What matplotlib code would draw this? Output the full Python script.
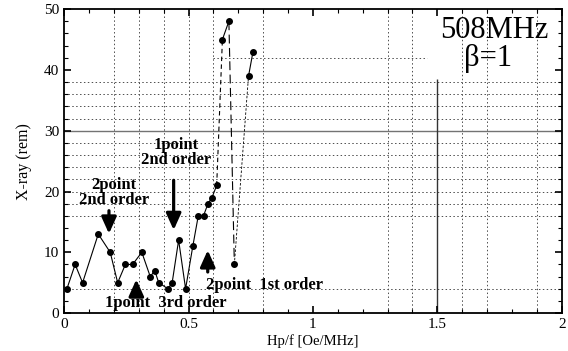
import matplotlib
matplotlib.use('Agg')
import matplotlib.pyplot as plt

plt.rcParams['font.family'] = ['Liberation Serif', 'DejaVu Serif']

# measured points (Hp/f, X-ray)
x_solid = [0.011, 0.044, 0.074, 0.137, 0.185, 0.215, 0.246, 0.275, 0.312, 0.346,
           0.364, 0.380, 0.417, 0.434, 0.460, 0.488, 0.517, 0.539, 0.560, 0.578,
           0.594, 0.613]
y_solid = [4, 8, 5, 13, 10, 5, 8, 8, 10, 6,
           7, 5, 4, 5, 12, 4, 11, 16, 16, 18,
           19, 21]
x_top = [0.636, 0.662]
y_top = [45, 48]
x_low = 0.684
y_low = 8
x_last = [0.741, 0.759]
y_last = [39, 43]

# grid of the scanned paper
vgrid = [0.2, 0.3, 0.4, 0.5, 0.6, 0.8, 1.3, 1.4, 1.6, 1.7, 1.9]
hgrid = [4, 16, 18, 20, 22, 24, 26, 28, 32, 34, 36, 38]

fig = plt.figure(figsize=(5.68, 3.51), dpi=100)
ax = fig.add_axes([0.113, 0.108, 0.876, 0.866])

for v in vgrid:
    ax.axvline(v, color='0.3', lw=0.7, ls=(0, (1.5, 2.5)), zorder=1)
for h in hgrid:
    ax.axhline(h, color='0.3', lw=0.7, ls=(0, (1.5, 2.5)), zorder=1)
ax.hlines(42, 0.6, 1.46, color='0.3', lw=0.7, ls=(0, (1.5, 2.5)), zorder=1)
ax.axhline(30, color='0.45', lw=1.0, zorder=1)
ax.vlines(1.5, 0, 38.5, color='0.2', lw=1.0, zorder=1)

# data
ax.plot(x_solid, y_solid, color='k', lw=0.8, marker='o', ms=4, zorder=3)
ax.plot([x_solid[-1], x_top[0]], [y_solid[-1], y_top[0]], color='k', lw=0.8,
        ls=(0, (4, 3)), zorder=3)
ax.plot(x_top, y_top, color='k', lw=0.8, marker='o', ms=4, zorder=3)
ax.plot([x_top[-1], x_low], [y_top[-1], y_low], color='k', lw=0.8,
        ls=(0, (8, 4)), zorder=3)
ax.plot([x_low, x_last[0]], [y_low, y_last[0]], color='k', lw=0.6,
        ls=(0, (3, 2)), zorder=3)
ax.plot(x_low, y_low, color='k', marker='o', ms=4, zorder=3)
ax.plot(x_last, y_last, color='k', lw=0.8, marker='o', ms=4, zorder=3)

# annotations
arrow = dict(arrowstyle='-|>,head_width=0.45,head_length=1.0', color='k', lw=2.3)
ax.annotate('', xy=(0.18, 12.6), xytext=(0.18, 17.3), arrowprops=arrow)
ax.annotate('', xy=(0.44, 13.2), xytext=(0.44, 22.3), arrowprops=arrow)
ax.annotate('', xy=(0.29, 6.0), xytext=(0.29, 2.6), arrowprops=arrow)
ax.annotate('', xy=(0.577, 10.8), xytext=(0.577, 6.3), arrowprops=arrow)

tkw = dict(fontsize=12, fontweight='bold', ha='center', va='center',
           linespacing=0.9)
ax.text(0.20, 19.9, '2point\n2nd order', **tkw)
ax.text(0.45, 26.4, '1point\n2nd order', **tkw)
ax.text(0.41, 1.6, '1point  3rd order', **tkw)
ax.text(0.805, 4.7, '2point  1st order', **tkw)

ax.text(1.73, 46.5, '508MHz', fontsize=22, ha='center', va='center')
ax.text(1.705, 41.8, 'β=1', fontsize=22, ha='center', va='center')

ax.set_xlim(0, 2)
ax.set_ylim(0, 50)
ax.set_xticks([0, 0.5, 1, 1.5, 2])
ax.set_xticklabels(['0', '0.5', '1', '1.5', '2'])
ax.set_xticks([i / 10 for i in range(21)], minor=True)
ax.set_yticks([0, 10, 20, 30, 40, 50])
ax.set_yticks(list(range(0, 51, 2)), minor=True)
ax.tick_params(which='both', direction='in', top=True, right=True,
               labelsize=11)
ax.tick_params(which='major', length=5, width=1.2)
ax.tick_params(which='minor', length=3, width=0.8)
for s in ax.spines.values():
    s.set_linewidth(1.3)

ax.set_xlabel('Hp/f [Oe/MHz]', fontsize=10.5, labelpad=2)
ax.set_ylabel('X-ray (rem)', fontsize=11.5, labelpad=9)

fig.savefig('out.png', dpi=100)
